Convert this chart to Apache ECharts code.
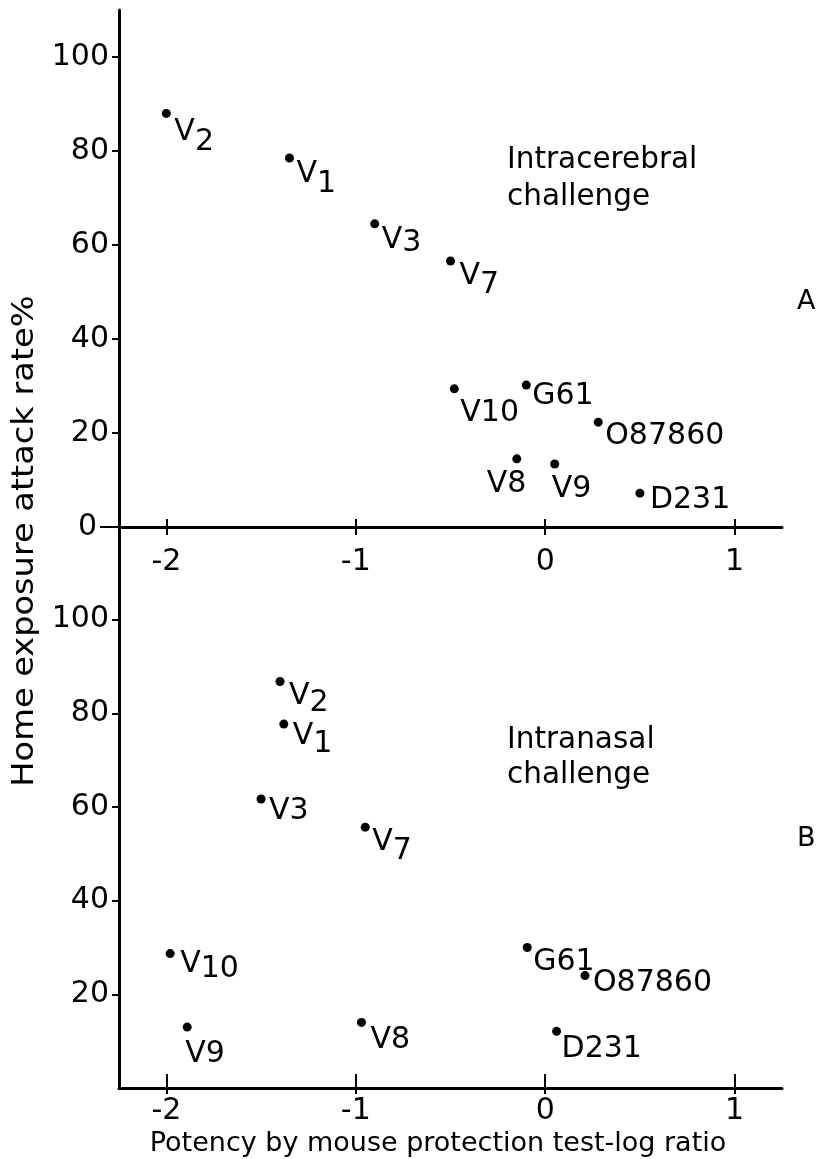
<!DOCTYPE html>
<html><head><meta charset="utf-8">
<script src="https://cdn.jsdelivr.net/npm/echarts@6/dist/echarts.min.js"></script>
<style>html,body{margin:0;padding:0;background:#fff;}#c{width:821px;height:1159px;}</style>
</head><body><div id="c"></div>
<script>
// ---- data ----
const xTicks = [-2, -1, 0, 1];
const yTicksA = [20, 40, 60, 80, 100];
const yZeroA = [0];
const yTicksB = [20, 40, 60, 80, 100];

// Panel A: intracerebral challenge
const strainsA = ['V2', 'V1', 'V3', 'V7', 'V10', 'G61', 'O87860', 'V8', 'V9', 'D231'];
const potencyA = [-2.00, -1.35, -0.90, -0.50, -0.48, -0.10, 0.28, -0.15, 0.05, 0.50];
const attackA  = [88.0, 78.5, 64.5, 56.6, 29.4, 30.2, 22.3, 14.5, 13.4, 7.2];

// Panel B: intranasal challenge
const strainsB = ['V2', 'V1', 'V3', 'V7', 'V10', 'V9', 'V8', 'G61', 'O87860', 'D231'];
const potencyB = [-1.40, -1.38, -1.50, -0.95, -1.98, -1.89, -0.97, -0.095, 0.21, 0.06];
const attackB  = [86.8, 77.7, 61.7, 55.7, 28.7, 13.0, 14.0, 30.0, 24.0, 12.1];

// ---- label styling (offset from dot: dx, dy, subscript drop) ----
const labelStyleA = {
  V2: [8, 15, 10], V1: [7, 12, 10], V3: [7, 12, 3], V7: [9, 11, 9], V10: [6, 20, 0],
  G61: [6, 7, 0], O87860: [7, 10, 0], V8: [-30, 21, 0], V9: [-3, 21, 0], D231: [10, 3, 0]
};
const labelStyleB = {
  V2: [9, 11, 7], V1: [9, 8, 8], V3: [8, 8, 0], V7: [7, 11, 9], V10: [10, 7, 5],
  V9: [-2, 23, 0], V8: [9, 14, 0], G61: [6, 11, 0], O87860: [8, 4, 0], D231: [5, 14, 0]
};

const FONT = 'DejaVu Sans';
const LBL = 30;
const DOT = 9;
const rich = { v: { fontSize: LBL, fontFamily: FONT, color: '#000' } };
for (let s = 1; s <= 14; s++) {
  rich['s' + s] = { fontSize: LBL, fontFamily: FONT, color: '#000', padding: [2 * s, 0, 0, 0] };
}

function buildData(names, xs, ys, styles) {
  return names.map((n, i) => {
    const st = styles[n];
    const text = st[2] > 0 ? '{v|' + n.slice(0, 1) + '}{s' + st[2] + '|' + n.slice(1) + '}' : '{v|' + n + '}';
    return { name: n, value: [xs[i], ys[i]], label: { position: [st[0] + DOT / 2, st[1] + DOT / 2 + 4], formatter: text } };
  });
}

function xAxisMain(grid, tickLen, inside, margin) {
  return {
    gridIndex: grid, type: 'value', min: -2.25, max: 1.25, position: 'bottom',
    axisLine: { show: true, onZero: false, lineStyle: { color: '#000', width: 3 } },
    axisTick: { show: true, inside: inside, length: tickLen, customValues: xTicks, lineStyle: { color: '#000', width: 2 } },
    axisLabel: { show: true, customValues: xTicks, margin: margin, fontSize: 30, fontFamily: FONT, color: '#000' },
    splitLine: { show: false }
  };
}
function xAxisExtra(grid, tickLen, inside) {
  return {
    gridIndex: grid, type: 'value', min: -2.25, max: 1.25, position: 'bottom', offset: 0,
    axisLine: { show: false, onZero: false },
    axisTick: { show: true, inside: inside, length: tickLen, customValues: xTicks, lineStyle: { color: '#000', width: 2 } },
    axisLabel: { show: false },
    splitLine: { show: false }
  };
}
function yAxis(grid, max, ticks, tickLen, margin, showLine) {
  return {
    gridIndex: grid, type: 'value', min: 0, max: max, position: 'left', offset: 0,
    axisLine: { show: showLine, onZero: false, lineStyle: { color: '#000', width: 3 } },
    axisTick: { show: true, length: tickLen, customValues: ticks, lineStyle: { color: '#000', width: 2 } },
    axisLabel: { show: true, customValues: ticks, margin: margin, fontSize: 30, fontFamily: FONT, color: '#000', padding: [10, 0, 0, 0] },
    splitLine: { show: false }
  };
}

const chart = echarts.init(document.getElementById('c'), null, { renderer: 'canvas' });
chart.setOption({
  animation: false,
  backgroundColor: '#fff',
  grid: [
    { left: 119, top: 10, width: 663, height: 517, outerBoundsMode: 'none' },
    { left: 119, top: 526, width: 663, height: 562, outerBoundsMode: 'none' }
  ],
  xAxis: [
    xAxisMain(0, 8, false, 20), xAxisExtra(0, 8, true),
    xAxisMain(1, 14, true, 8), xAxisExtra(1, 6, false)
  ],
  yAxis: [
    yAxis(0, 110, yTicksA, 7, 10, true),
    yAxis(1, 120, yTicksB, 7, 10, true),
    yAxis(0, 110, yZeroA, 19, 22, false)
  ],
  series: [
    {
      type: 'scatter', xAxisIndex: 0, yAxisIndex: 0, symbol: 'circle', symbolSize: DOT,
      itemStyle: { color: '#000', opacity: 1 }, silent: true,
      label: { show: true, color: '#000', align: 'left', verticalAlign: 'middle', rich: rich },
      data: buildData(strainsA, potencyA, attackA, labelStyleA)
    },
    {
      type: 'scatter', xAxisIndex: 2, yAxisIndex: 1, symbol: 'circle', symbolSize: DOT,
      itemStyle: { color: '#000', opacity: 1 }, silent: true,
      label: { show: true, color: '#000', align: 'left', verticalAlign: 'middle', rich: rich },
      data: buildData(strainsB, potencyB, attackB, labelStyleB)
    }
  ],
  graphic: [
    { type: 'text', x: 507, y: 160, style: { text: 'Intracerebral', fontSize: 29.5, fontFamily: FONT, fill: '#000', align: 'left', verticalAlign: 'middle' } },
    { type: 'text', x: 507, y: 197, style: { text: 'challenge', fontSize: 29.5, fontFamily: FONT, fill: '#000', align: 'left', verticalAlign: 'middle' } },
    { type: 'text', x: 797, y: 302, style: { text: 'A', fontSize: 27, fontFamily: FONT, fill: '#000', align: 'left', verticalAlign: 'middle' } },
    { type: 'text', x: 507, y: 740, style: { text: 'Intranasal', fontSize: 29.5, fontFamily: FONT, fill: '#000', align: 'left', verticalAlign: 'middle' } },
    { type: 'text', x: 507, y: 775, style: { text: 'challenge', fontSize: 29.5, fontFamily: FONT, fill: '#000', align: 'left', verticalAlign: 'middle' } },
    { type: 'text', x: 797, y: 839, style: { text: 'B', fontSize: 27, fontFamily: FONT, fill: '#000', align: 'left', verticalAlign: 'middle' } },
    { type: 'text', x: 438, y: 1144, style: { text: 'Potency by mouse protection test-log ratio', fontSize: 27, fontFamily: FONT, fill: '#000', align: 'center', verticalAlign: 'middle' } },
    { type: 'text', x: 25, y: 541, rotation: Math.PI / 2, scaleX: 1.12, style: { text: 'Home exposure attack rate%', fontSize: 30, fontFamily: FONT, fill: '#000', align: 'center', verticalAlign: 'middle' } }
  ]
});
</script>
</body></html>
